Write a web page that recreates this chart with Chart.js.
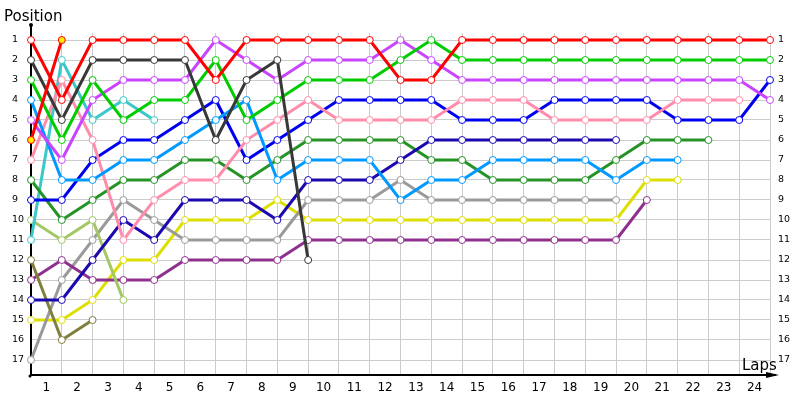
<!DOCTYPE html>
<html>
<head>
<meta charset="utf-8">
<script src="https://cdn.jsdelivr.net/npm/chart.js@4/dist/chart.umd.min.js"></script>
<style>
  html, body { margin: 0; padding: 0; background: #fff; }
  #wrap { width: 800px; height: 400px; }
</style>
</head>
<body>
<div id="wrap"><canvas id="lapChart" width="800" height="400"></canvas></div>
<script>
// laps (0 = start) and the labels shown between gridlines
const laps = [0, 1, 2, 3, 4, 5, 6, 7, 8, 9, 10, 11, 12, 13, 14, 15, 16, 17, 18, 19, 20, 21, 22, 23, 24];
const lapLabels = ["1", "2", "3", "4", "5", "6", "7", "8", "9", "10", "11", "12",
                   "13", "14", "15", "16", "17", "18", "19", "20", "21", "22", "23", "24"];
const positionLabels = [1, 2, 3, 4, 5, 6, 7, 8, 9, 10, 11, 12, 13, 14, 15, 16, 17];

// position of each car at the end of every lap
const redLeader   = [1, 4, 1, 1, 1, 1, 3, 1, 1, 1, 1, 1, 3, 3, 1, 1, 1, 1, 1, 1, 1, 1, 1, 1, 1];
const redSecond   = [6, 1];
const charcoal    = [2, 5, 2, 2, 2, 2, 6, 3, 2, 12];
const green       = [3, 6, 3, 5, 4, 4, 2, 5, 4, 3, 3, 3, 2, 1, 2, 2, 2, 2, 2, 2, 2, 2, 2, 2, 2];
const violet      = [5, 7, 4, 3, 3, 3, 1, 2, 3, 2, 2, 2, 1, 2, 3, 3, 3, 3, 3, 3, 3, 3, 3, 3, 4];
const skyBlue     = [4, 8, 8, 7, 7, 6, 5, 4, 8, 7, 7, 7, 9, 8, 8, 7, 7, 7, 7, 8, 7, 7];
const pink        = [7, 3, 6, 11, 9, 8, 8, 6, 5, 4, 5, 5, 5, 5, 4, 4, 4, 5, 5, 5, 5, 4, 4, 4];
const blue        = [9, 9, 7, 6, 6, 5, 4, 7, 6, 5, 4, 4, 4, 4, 5, 5, 5, 4, 4, 4, 4, 5, 5, 5, 3];
const navy        = [14, 14, 12, 10, 11, 9, 9, 9, 10, 8, 8, 8, 7, 6, 6, 6, 6, 6, 6, 6];
const forestGreen = [8, 10, 9, 8, 8, 7, 7, 8, 7, 6, 6, 6, 6, 7, 7, 8, 8, 8, 8, 7, 6, 6, 6];
const teal        = [11, 2, 5, 4, 5];
const lightGreen  = [10, 11, 10, 14];
const olive       = [12, 16, 15];
const plum        = [13, 12, 13, 13, 13, 12, 12, 12, 12, 11, 11, 11, 11, 11, 11, 11, 11, 11, 11, 11, 9];
const gray        = [17, 13, 11, 9, 10, 11, 11, 11, 11, 9, 9, 9, 8, 9, 9, 9, 9, 9, 9, 9];
const yellow      = [15, 15, 14, 12, 12, 10, 10, 10, 9, 10, 10, 10, 10, 10, 10, 10, 10, 10, 10, 10, 8, 8];

const FONT = "'DejaVu Sans', Verdana, sans-serif";

function car(data, color, fill) {
    return {
        data: data,
        borderColor: color,
        borderWidth: 3,
        pointRadius: 3.5,
        pointBorderWidth: 1,
        pointBorderColor: color,
        pointBackgroundColor: fill || "#ffffff",
        pointHoverRadius: 3.5,
        tension: 0,
        clip: false
    };
}

// axis arrow, end dots and the two axis captions
const axisDecor = {
    id: "axisDecor",
    afterDraw(chart) {
        const c = chart.ctx;
        const a = chart.chartArea;
        c.save();
        c.strokeStyle = "#000";
        c.fillStyle = "#000";
        c.lineWidth = 2;
        c.beginPath();
        c.moveTo(a.left, a.top);
        c.lineTo(a.left, 25);
        c.moveTo(a.right, a.bottom);
        c.lineTo(a.right + 6, a.bottom);
        c.stroke();
        c.beginPath();
        c.arc(a.left, 25, 2, 0, Math.PI * 2);
        c.arc(a.left - 1, a.bottom + 1, 1.5, 0, Math.PI * 2);
        c.fill();
        c.beginPath();
        c.moveTo(a.right - 4, a.bottom - 3);
        c.lineTo(a.right + 9, a.bottom);
        c.lineTo(a.right - 4, a.bottom + 3);
        c.closePath();
        c.fill();
        c.font = "15px " + FONT;
        c.textBaseline = "alphabetic";
        c.textAlign = "left";
        c.fillText("Position", 4, 21);
        c.fillText("Laps", 742, 370);
        c.restore();
    }
};

new Chart(document.getElementById("lapChart"), {
    type: "line",
    data: {
        labels: laps,
        datasets: [
            car(redSecond, "#ff0000", "#ffee00"),
            car(redLeader, "#ff0000"),
            car(charcoal, "#383838"),
            car(green, "#00cc00"),
            car(violet, "#c844ff"),
            car(skyBlue, "#0099ff"),
            car(pink, "#ff8cab"),
            car(blue, "#0000f0"),
            car(navy, "#1c08b0"),
            car(forestGreen, "#259325"),
            car(teal, "#3cc8c8"),
            car(lightGreen, "#a2c864"),
            car(olive, "#80803e"),
            car(plum, "#90308e"),
            car(gray, "#9a9a9a"),
            car(yellow, "#dede00")
        ]
    },
    options: {
        responsive: false,
        animation: false,
        events: [],
        layout: { padding: { left: 12, top: 33, right: 0, bottom: 0 } },
        plugins: {
            legend: { display: false },
            tooltip: { enabled: false }
        },
        scales: {
            x: {
                type: "linear",
                min: 0,
                max: 24,
                afterBuildTicks(scale) {
                    const t = laps.map(v => ({ value: v }));
                    lapLabels.forEach((l, i) => t.push({ value: i + 0.5 }));
                    scale.ticks = t.sort((p, q) => p.value - q.value);
                },
                afterFit(scale) { scale.height = 25; },
                ticks: {
                    autoSkip: false,
                    maxRotation: 0,
                    padding: 6,
                    color: "#000",
                    font: { family: FONT, size: 12 },
                    callback: (value) => Number.isInteger(value) ? "" : lapLabels[Math.floor(value)]
                },
                grid: {
                    drawTicks: false,
                    color: (ctx) => (ctx.tick && Number.isInteger(ctx.tick.value)) ? "#cccccc" : "rgba(0,0,0,0)"
                },
                border: { color: "#000", width: 2 }
            },
            y: {
                type: "linear",
                position: "left",
                reverse: true,
                min: 0.65,
                max: 17.75,
                afterBuildTicks(scale) {
                    scale.ticks = positionLabels.map(v => ({ value: v }));
                },
                afterFit(scale) { scale.width = 19; },
                ticks: {
                    crossAlign: "far",
                    color: "#000",
                    font: { family: FONT, size: 9.5 }
                },
                grid: { drawTicks: false, color: "#cccccc" },
                border: { color: "#000", width: 2 }
            },
            y2: {
                type: "linear",
                position: "right",
                reverse: true,
                min: 0.65,
                max: 17.75,
                afterBuildTicks(scale) {
                    scale.ticks = positionLabels.map(v => ({ value: v }));
                },
                afterFit(scale) { scale.width = 30; },
                ticks: {
                    padding: 8,
                    color: "#000",
                    font: { family: FONT, size: 9.5 }
                },
                grid: { display: false, drawTicks: false },
                border: { display: false }
            }
        }
    },
    plugins: [axisDecor]
});
</script>
</body>
</html>
